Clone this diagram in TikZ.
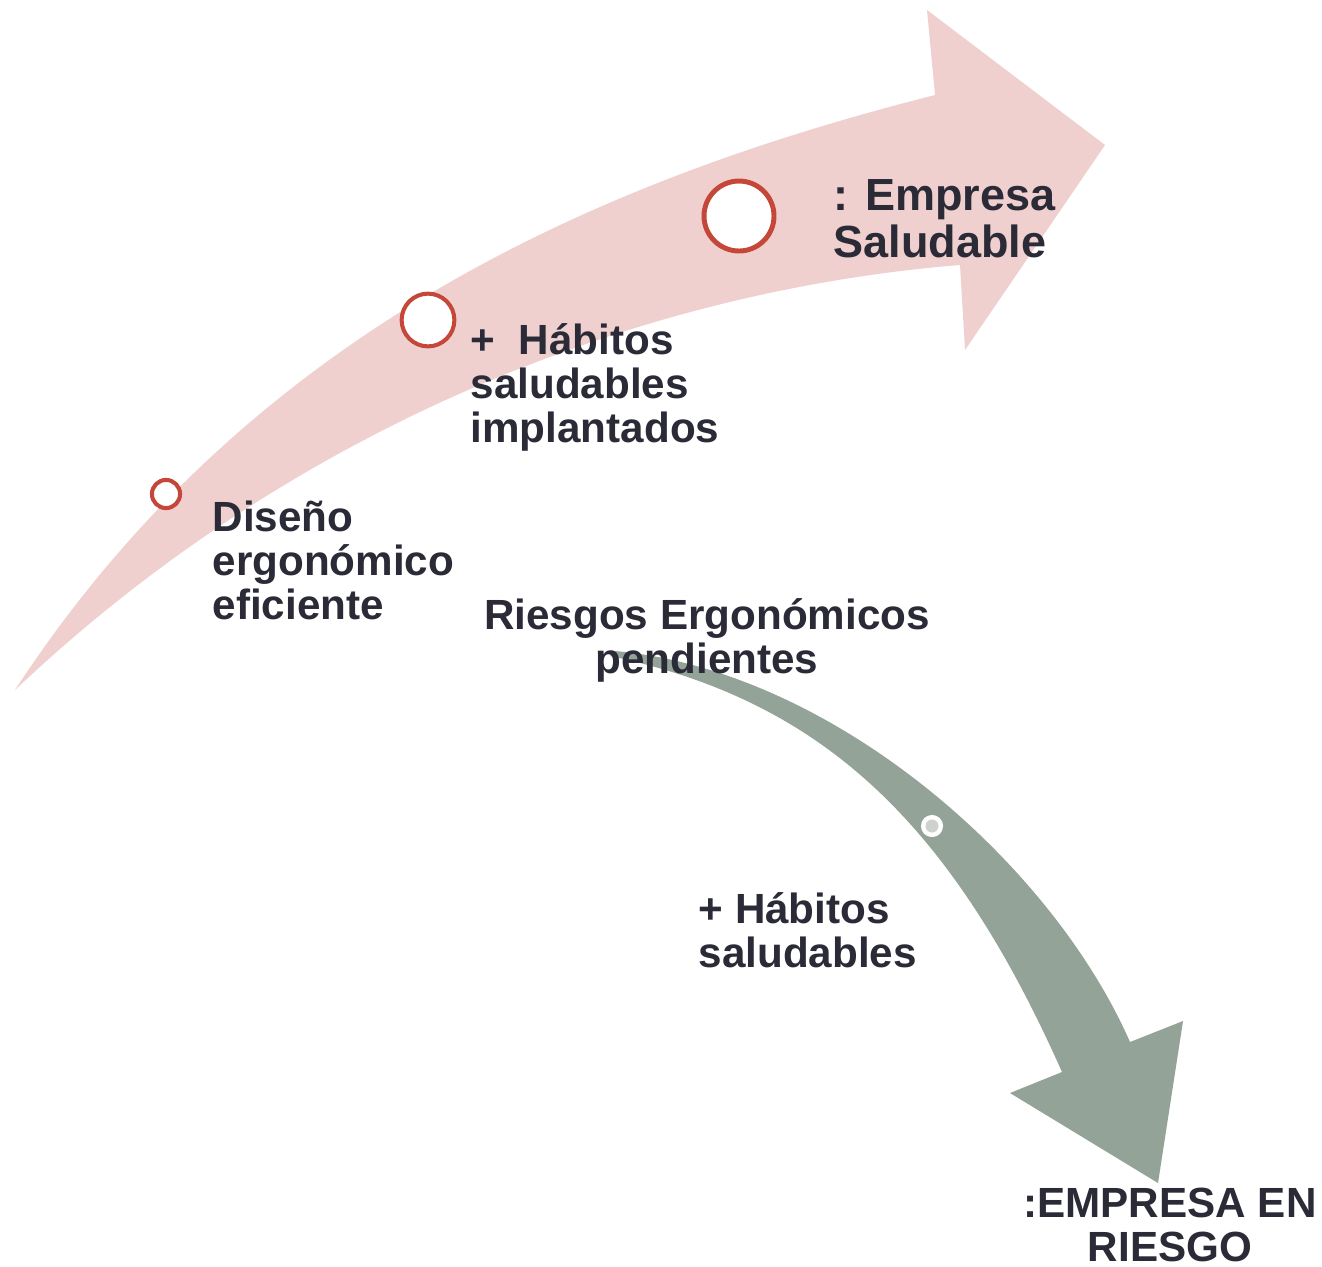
\documentclass[tikz,border=0pt]{standalone}
\usepackage{fontspec}
\setmainfont{Liberation Sans}
\definecolor{pinkband}{HTML}{EFD0CF}
\definecolor{ringred}{HTML}{C4473A}
\definecolor{sage}{HTML}{93A398}
\definecolor{dotgray}{HTML}{CDD2CE}
\definecolor{ink}{HTML}{2B2B38}
\begin{document}
\begin{tikzpicture}[x=0.01cm,y=-0.01cm,
    lbl/.style={inner sep=0pt,align=left,text=ink,font=\bfseries\fontsize{12}{12.5}\selectfont},
    ring/.style={circle,draw=ringred,line width=1.15pt,fill=white,inner sep=0pt}]
  \useasboundingbox[fill=white] (0,0) rectangle (1322,1266);
  % rising arrow
  \fill[pinkband] (15,690) .. controls (250,330) and (600,180) .. (935,95)
      -- (927,10) -- (1105,145) -- (965,350) -- (960,265)
      .. controls (650,290) and (300,420) .. (15,690) -- cycle;
  % falling arrow
  \fill[sage] (615,651) .. controls (830,670) and (1050,860) .. (1130,1042)
      -- (1183,1021) -- (1158,1183) -- (1010,1093) -- (1062,1072)
      .. controls (950,820) and (820,700) .. (610,656) -- cycle;
  % markers
  \node[ring,minimum size=8pt] (r1) at (166,494) {};
  \node[ring,minimum size=15pt] (r2) at (428,320) {};
  \node[ring,line width=1.4pt,minimum size=19.9pt] (r3) at (739,216) {};
  \node[circle,fill=white,minimum size=6.3pt,inner sep=0pt] (g1) at (932,826) {};
  \node[circle,fill=dotgray,minimum size=3.7pt,inner sep=0pt] at (g1) {};
  % labels
  \node[lbl,anchor=north west] (diseno) at (212,500) {Diseño\\ergonómico\\eficiente};
  \node[lbl,anchor=north west] (habitos) at (470,323) {+~~Hábitos\\saludables\\implantados};
  \node[lbl,anchor=north west,font=\bfseries\fontsize{12.8}{13.4}\selectfont] (sana) at (833,179) {: Empresa\\Saludable};
  \node[lbl,anchor=north,align=center] (riesgos) at (707,598) {Riesgos Ergonómicos\\pendientes};
  \node[lbl,anchor=north west] (habitos2) at (698,892) {+ Hábitos\\saludables};
  \node[lbl,anchor=north,align=center] (riesgo) at (1170,1187) {:EMPRESA EN\\RIESGO};
\end{tikzpicture}
\end{document}
